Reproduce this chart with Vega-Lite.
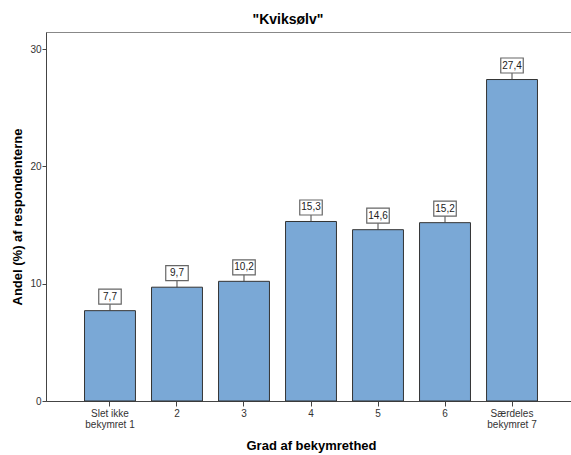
{
  "$schema": "https://vega.github.io/schema/vega-lite/v6.json",
  "autosize": "none",
  "padding": {"left": 46, "top": 32, "right": 0, "bottom": 54},
  "width": 530,
  "height": 369,
  "title": {"text": "\"Kviksølv\"", "fontSize": 14, "fontWeight": "bold", "color": "#000", "offset": 5, "dx": -23, "font": "Liberation Sans"},
  "config": {
    "font": "Liberation Sans",
    "view": {"stroke": "#888", "strokeWidth": 1},
    "axis": {"grid": false, "domainColor": "#444", "tickColor": "#444", "labelColor": "#333", "labelFontSize": 10, "titleFontSize": 13, "titleFontWeight": "bold", "titleColor": "#000", "labelFont": "Liberation Sans", "titleFont": "Liberation Sans"}
  },
  "data": {"values": [
    {"cat": "Slet ikke bekymret 1", "value": 7.7, "label": "7,7"},
    {"cat": "2", "value": 9.7, "label": "9,7"},
    {"cat": "3", "value": 10.2, "label": "10,2"},
    {"cat": "4", "value": 15.3, "label": "15,3"},
    {"cat": "5", "value": 14.6, "label": "14,6"},
    {"cat": "6", "value": 15.2, "label": "15,2"},
    {"cat": "Særdeles bekymret 7", "value": 27.4, "label": "27,4"}
  ]},
  "encoding": {
    "x": {"field": "cat", "type": "nominal", "sort": null,
      "scale": {"paddingInner": 0.24, "paddingOuter": 0.575},
      "axis": {"title": "Grad af bekymrethed", "labelAngle": 0, "tickSize": 5, "labelPadding": 2, "titlePadding": 10, "labelLineHeight": 11,
        "labelExpr": "datum.value == 'Slet ikke bekymret 1' ? ['Slet ikke', 'bekymret 1'] : datum.value == 'Særdeles bekymret 7' ? ['Særdeles', 'bekymret 7'] : datum.value"}},
    "y": {"field": "value", "type": "quantitative",
      "scale": {"domain": [0, 31.45], "nice": false},
      "axis": {"title": "Andel (%) af respondenterne", "values": [0, 10, 20, 30], "tickSize": 4, "labelPadding": 1, "titlePadding": 5}}
  },
  "layer": [
    {"mark": {"type": "bar", "fill": "#7AA8D6", "stroke": "#333", "strokeWidth": 1}},
    {"mark": {"type": "rule", "color": "#444", "strokeWidth": 1, "y2Offset": -7}, "encoding": {"y2": {"field": "value"}}},
    {"mark": {"type": "point", "shape": "M-1.5,-1L1.5,-1L1.5,1L-1.5,1Z", "size": 225, "filled": true, "fill": "#fff", "stroke": "#666", "strokeWidth": 1.2, "opacity": 1, "yOffset": -14}},
    {"mark": {"type": "text", "fontSize": 10, "color": "#222", "yOffset": -14, "baseline": "middle"}, "encoding": {"text": {"field": "label"}}}
  ]
}
